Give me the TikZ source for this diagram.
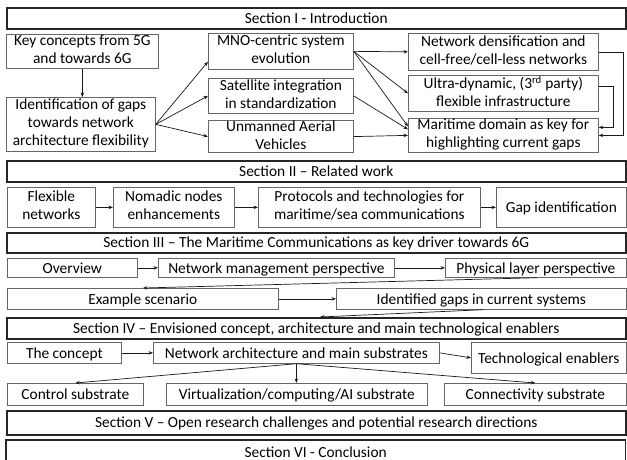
\documentclass[tikz,border=0pt]{standalone}
\usepackage{fontspec}
\setmainfont{Carlito}
\usetikzlibrary{arrows.meta}
\newcommand\myfs{\fontsize{15.4}{18}\selectfont}
\newcommand\mystrut{\rule[-3.8pt]{0pt}{18pt}}
\newcommand\mkbox[7][bx]{%
  \pgfmathsetmacro\myboxw{#5-#3}\pgfmathsetmacro\myboxh{#6-#4}%
  \node[#1,minimum width=\myboxw pt,minimum height=\myboxh pt,anchor=north west] (#2) at (#3,#4) {#7};}
\tikzset{
  every node/.style={execute at begin node=\mystrut, execute at end node=\mystrut},
  bx/.style={draw=black!60, line width=0.7pt, inner sep=0pt, align=center},
  secbar/.style={draw=black!85, line width=1.5pt, inner sep=0pt, align=center},
  secline/.style={draw=black!85, line width=1.5pt},
  lastbar/.style={inner sep=0pt, align=center, execute at begin node={}, execute at end node={}},
  arr/.style={-{Stealth[length=4.5pt,width=3.5pt]}, line width=0.7pt, draw=black!90},
}
\begin{document}
\begin{tikzpicture}[x=1pt,y=-1pt,font=\myfs]
\clip (0,0) rectangle (627,459);
\fill[white] (0,0) rectangle (627,459);
% Section I
\mkbox[secbar]{secI}{6}{7}{625}{28}{Section I - Introduction}
\mkbox{key}{6}{34}{158}{68}{Key concepts from 5G\\and towards 6G}
\mkbox{ident}{6}{97}{155}{151}{Identification of gaps\\towards network\\architecture flexibility}
\mkbox{mno}{208}{33}{353}{69}{MNO-centric system\\evolution}
\mkbox{sat}{208}{78}{353}{113}{Satellite integration\\in standardization}
\mkbox{uav}{208}{120}{353}{152}{Unmanned Aerial\\Vehicles}
\mkbox{dens}{408}{33}{598}{70}{Network densification and\\cell-free/cell-less networks}
\mkbox{ultra}{408}{75}{598}{111}{Ultra-dynamic, (3\textsuperscript{rd} party)\\flexible infrastructure}
\mkbox{mar}{408}{118}{598}{152}{Maritime domain as key for\\highlighting current gaps}
\draw[arr] (key.south) -- (key.south |- ident.north);
\draw[arr] (ident.east) -- ([yshift=8pt]mno.south west);
\draw[arr] (ident.east) -- (sat.west);
\draw[arr] (ident.east) -- (uav.west);
\draw[arr] (mno.east) -- (dens.west);
\draw[arr] (mno.east) -- (ultra.west);
\draw[arr] (mno.east) -- ([yshift=9pt]mar.west);
\draw[arr] (sat.east) -- ([yshift=6pt]mar.west);
\draw[arr] (uav.east) -- (mar.west);
\draw[arr] (dens.east) -- ++(25,0) |- (mar.east);
\draw[arr] ([yshift=7pt]ultra.east) -- ++(15,0) |- ([yshift=8pt]mar.east);
% Section II
\mkbox[secbar]{secII}{6}{160}{625}{181}{Section II -- Related work}
\mkbox{flex}{7}{187}{95}{227}{Flexible\\networks}
\mkbox{nom}{113}{187}{234}{227}{Nomadic nodes\\enhancements}
\mkbox{prot}{258}{187}{480}{227}{Protocols and technologies for\\maritime/sea communications}
\mkbox{gap}{496}{187}{626}{227}{Gap identification}
\draw[arr] (flex.east) -- (nom.west);
\draw[arr] (nom.east) -- (prot.west);
\draw[arr] (prot.east) -- (gap.west);
% Section III
\mkbox[secbar]{secIII}{6}{232}{625}{252}{Section III -- The Maritime Communications as key driver towards 6G}
\mkbox{over}{7}{258}{137}{277}{Overview}
\mkbox{netm}{158}{258}{394}{277}{Network management perspective}
\mkbox{phys}{445}{258}{626}{277}{Physical layer perspective}
\mkbox{ex}{7}{288}{278}{309}{Example scenario}
\mkbox{idg}{336}{288}{626}{309}{Identified gaps in current systems}
\draw[arr] (over.east) -- (netm.west);
\draw[arr] (netm.east) -- (phys.west);
\draw[arr] ([xshift=92pt]phys.south west) -- ([xshift=136pt]ex.north west);
\draw[arr] (ex.east) -- (idg.west);
% Section IV
\mkbox[secbar]{secIV}{6}{317}{625}{338}{Section IV -- Envisioned concept, architecture and main technological enablers}
\draw[arr] ([xshift=147pt]idg.south west) -- ([xshift=314pt]secIV.north west);
\mkbox{conc}{7}{342}{121}{363}{The concept}
\mkbox{arch}{153}{342}{439}{363}{Network architecture and main substrates}
\mkbox{tech}{471}{342}{626}{373}{Technological enablers}
\mkbox{ctrl}{7}{383}{143}{405}{Control substrate}
\mkbox{virt}{166}{383}{427}{405}{Virtualization/computing/AI substrate}
\mkbox{conn}{444}{383}{626}{405}{Connectivity substrate}
\draw[arr] (conc.east) -- (arch.west);
\draw[arr] (arch.east) -- (tech.west);
\draw[arr] (arch.south) -- (ctrl.north);
\draw[arr] (arch.south) -- (arch.south |- virt.north);
\draw[arr] (arch.south) -- (conn.north);
% Section V, VI
\mkbox[secbar]{secV}{6}{410}{625}{434}{Section V -- Open research challenges and potential research directions}
\mkbox[lastbar]{secVI}{6}{443}{625}{458}{Section VI - Conclusion}
\draw[secline] ([yshift=3pt]secVI.north west) rectangle ([yshift=-8pt]secVI.south east);
\end{tikzpicture}
\end{document}
